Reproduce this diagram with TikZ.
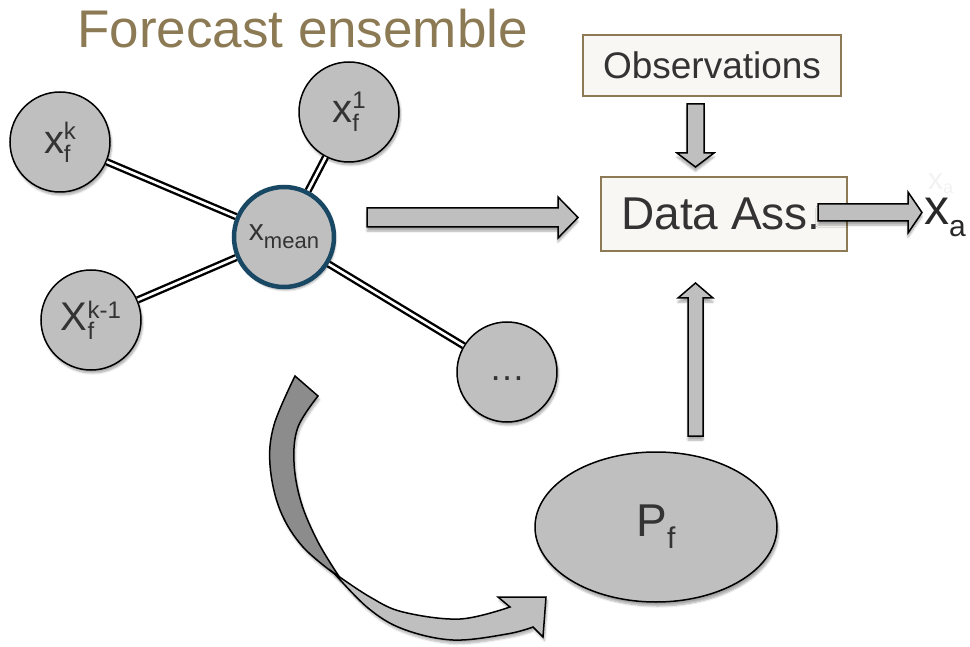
\documentclass[tikz,border=0pt]{standalone}
\usepackage{fontspec}
\setmainfont{Liberation Sans}
\usetikzlibrary{shapes.geometric,shadows.blur}

\definecolor{nodegray}{RGB}{191,191,191}
\definecolor{tailgray}{RGB}{140,140,140}
\definecolor{labeltext}{RGB}{51,51,51}
\definecolor{titlecol}{RGB}{140,122,84}
\definecolor{meanedge}{RGB}{24,72,99}
\definecolor{boxfill}{RGB}{249,247,244}
\definecolor{boxedge}{RGB}{140,122,84}

\newcommand{\fsz}[1]{\fontsize{#1}{#1}\selectfont}
% member label: base letter, stacked subscript f and a superscript
\newcommand{\memberlabel}[3]{#1\rlap{\raisebox{-9pt}{\fsz{24}f}}\raisebox{#3}{\fsz{24}#2}}

\tikzset{
  member/.style={circle, fill=nodegray, draw=black, line width=1.5pt,
    minimum size=100pt, inner sep=0pt, text=labeltext, font=\fsz{40},
    blur shadow={shadow xshift=1.5pt, shadow yshift=-3pt, shadow blur steps=6, shadow opacity=35}},
  meanmember/.style={member, draw=meanedge, line width=4.5pt},
  link/.style={draw=black, line width=2.4pt, double=white, double distance=2.6pt},
  infobox/.style={rectangle, fill=boxfill, draw=boxedge, line width=1.3pt,
    inner sep=0pt, text=labeltext},
  blockarrow/.style={fill=nodegray, draw=black, line width=1.5pt, line join=miter,
    blur shadow={shadow xshift=0pt, shadow yshift=-4pt, shadow blur steps=6, shadow opacity=35}},
  bendarrow/.style={draw=black, line width=1.5pt, line join=miter,
    blur shadow={shadow xshift=1.5pt, shadow yshift=-3.5pt, shadow blur steps=6, shadow opacity=30}},
}

\begin{document}
\begin{tikzpicture}[x=1pt, y=-1pt]
\useasboundingbox (0,0) rectangle (970,647);

% title
\node[anchor=base west, text=titlecol, font=\fsz{53}, inner sep=0pt] (title) at (77,48) {Forecast ensemble};

% ensemble members
\node[member] (xk)  at (60,142)  {\memberlabel{x}{k}{14pt}};
\node[member] (x1)  at (349,112) {\memberlabel{x}{1}{14pt}};
\node[member] (xk1) at (91,320)  {\memberlabel{X}{k-1}{12pt}};
\node[member] (xd)  at (507,372) {};
\node[anchor=base, text=labeltext, font=\fsz{36}, inner sep=0pt] (dots) at (xd.center) [yshift=-9pt] {\ldots};
\node[meanmember] (xm) at (284,237) {{\fsz{30}x}\raisebox{-8pt}{\fsz{22}mean}};

% links from the mean to each member
\draw[link] (xm) -- (xk);
\draw[link] (xm) -- (x1);
\draw[link] (xm) -- (xk1);
\draw[link] (xm) -- (xd);

% observation and assimilation boxes
\node[infobox, minimum width=258pt, minimum height=61pt, font=\fsz{37}] (obs) at (712,65.5) {Observations};
\node[infobox, minimum width=246pt, minimum height=74pt, font=\fsz{46}] (da) at (724,214) {\hspace{-6pt}Data Ass.};

% covariance ellipse
\node[ellipse, fill=nodegray, draw=black, line width=1.5pt, minimum width=242pt, minimum height=150pt,
  inner sep=0pt, text=labeltext,
  blur shadow={shadow xshift=1.5pt, shadow yshift=-4pt, shadow blur steps=6, shadow opacity=35}] (pf) at (656,527)
  {{\fsz{46}P}\raisebox{-12pt}{\fsz{30}f}};

% block arrows
\path[blockarrow] (367,208) -- (558,208) -- (558,197) -- (578,217.5) -- (558,238) -- (558,227) -- (367,227) -- cycle;
\path[blockarrow] (687,104) -- (704,104) -- (704,153) -- (714,153) -- (695.5,167) -- (677,153) -- (687,153) -- cycle;
\path[blockarrow] (688,436) -- (688,298) -- (678,298) -- (695.5,283) -- (713,298) -- (703,298) -- (703,436) -- cycle;
\path[blockarrow] (818,204) -- (908,204) -- (908,192) -- (922,212.5) -- (908,233) -- (908,221) -- (818,221) -- cycle;

% analysis label and its faint echo
\node[anchor=base west, text=black!5, font=\fsz{30}, inner sep=0pt] (echo) at (928,190) {x\raisebox{-4pt}{\fsz{18}a}};
\node[anchor=base west, text=labeltext!80!black, font=\fsz{50}, inner sep=0pt] (xa) at (924,225) {x\raisebox{-12pt}{\fsz{30}a}};

% curved propagation arrow: dark tail then light head
\path[bendarrow, fill=tailgray]
  plot[smooth, tension=0.6] coordinates {(295,376) (274,425) (270,465) (280,510) (303,547) (340,578)}
  -- plot[smooth, tension=0.6] coordinates {(340,578) (318,542) (301,502) (294,462) (298,427) (318,396)}
  -- cycle;
\path[bendarrow, fill=nodegray]
  plot[smooth, tension=0.6] coordinates {(334,573) (368,608) (403,629) (453,640) (507,634) (533,627)}
  -- (543,637) -- (546,597) -- (498,597) -- (510,607)
  -- plot[smooth, tension=0.6] coordinates {(510,607) (460,619) (403,612) (370,597) (334,573)}
  -- cycle;
\end{tikzpicture}
\end{document}
